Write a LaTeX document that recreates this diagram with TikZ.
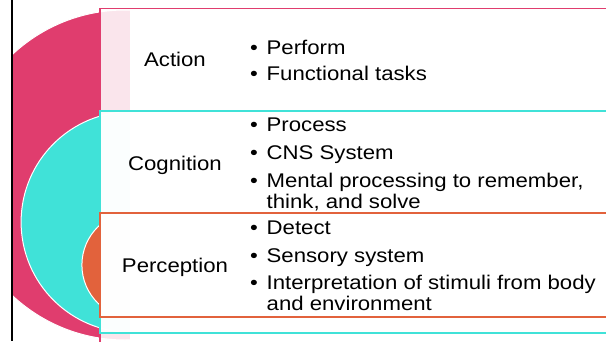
\documentclass[tikz,border=0pt]{standalone}
\usepackage{fontspec}
\setmainfont{Liberation Sans}[FakeStretch=1.12]
\usetikzlibrary{positioning}
\definecolor{actpink}{RGB}{224,61,110}
\definecolor{cogcyan}{RGB}{64,226,216}
\definecolor{perorange}{RGB}{226,98,60}
\tikzset{%
	disc/.style={circle, draw=white, line width=1pt, inner sep=0pt},
	veil/.style={fill=white, fill opacity=0.87},
	band/.style={draw=#1, line width=1.1pt, rectangle, inner sep=0pt, outer sep=0pt,%
		anchor=north west, minimum width=520pt},
	cat/.style={font=\fontsize{19.8}{22}\selectfont, anchor=base, inner sep=0pt},
	itm/.style={font=\fontsize{19.8}{22}\selectfont, anchor=base west, inner sep=0pt}
}
\newcommand{\bul}[1]{\makebox[16.5pt][l]{\textbullet}#1}

\begin{document}
\begin{tikzpicture}[x=1pt, y=-1pt]
	\useasboundingbox (0,0) rectangle (606,341);
	\clip (0,0) rectangle (606,341);

	% nested discs
	\node[disc, fill=actpink,   minimum size=330pt] (outer)  at (125,175)   {};
	\node[disc, fill=cogcyan,   minimum size=221pt] (middle) at (131.6,222) {};
	\node[disc, fill=perorange, minimum size=107pt] (inner)  at (135.4,265) {};
	\fill[white] (0,0) rectangle (12,341);

	% text bands
	\fill[veil]  (100,8.5) rectangle (130,360);
	\fill[white] (130,8.5) rectangle (640,360);
	\node[band=actpink, minimum height=351.5pt] (actbox) at (100,8.5) {};

	\fill[veil]  (100,111) rectangle (130,333);
	\fill[white] (130,111) rectangle (640,333);
	\node[band=cogcyan, minimum height=222pt] (cogbox) at (100,111) {};

	\fill[veil]  (100,213) rectangle (130,317);
	\fill[white] (130,213) rectangle (640,317);
	\node[band=perorange, minimum height=104pt] (perbox) at (100,213) {};

	% labels
	\node[cat] (action)     at (175,66.7)  {Action};
	\node[cat] (cognition)  at (175,170)   {Cognition};
	\node[cat] (perception) at (175,272.7) {Perception};

	% bullet lists
	\node[itm] (perform)    at (250,54)    {\bul{Perform}};
	\node[itm] (functional) at (250,80)    {\bul{Functional tasks}};

	\node[itm] (process)    at (250,131.7) {\bul{Process}};
	\node[itm] (cns)        at (250,159.3) {\bul{CNS System}};
	\node[itm] (mental)     at (250,187.3) {\bul{Mental processing to remember,}};
	\node[itm] (mentalcont) at (266.5,208.3) {think, and solve};

	\node[itm] (detect)     at (250,234.3) {\bul{Detect}};
	\node[itm] (sensory)    at (250,262.3) {\bul{Sensory system}};
	\node[itm] (interp)     at (250,289.3) {\bul{Interpretation of stimuli from body}};
	\node[itm] (interpcont) at (266.5,310.7) {and environment};

	% left rule
	\draw[line width=2pt] (11.5,0) -- (11.5,341);
\end{tikzpicture}
\end{document}
